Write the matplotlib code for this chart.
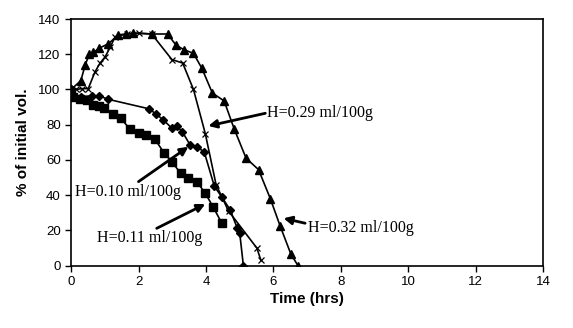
import matplotlib.pyplot as plt

# H=0.32 ml/100g (triangles)
t_032 = [0, 0.29, 0.42, 0.54, 0.66, 0.84, 1.11, 1.40, 1.63, 1.85, 2.39, 2.86,
         3.12, 3.36, 3.63, 3.88, 4.19, 4.54, 4.84, 5.19, 5.56, 5.91, 6.20, 6.52, 6.73]
v_032 = [100, 105, 114, 120, 121, 123.5, 126, 131, 131.5, 132, 131.5, 131.5,
         125, 122.5, 120.5, 112, 98, 93.5, 77.5, 61, 54.5, 38, 22.5, 6.5, 0]

# H=0.29 ml/100g (crosses)
t_029 = [0, 0.15, 0.32, 0.51, 0.71, 0.86, 1.01, 1.16, 1.31, 1.65, 2.02, 2.39,
         2.99, 3.31, 3.63, 3.98, 4.30, 4.67, 5.51, 5.63]
v_029 = [100, 100, 100.5, 100.5, 110, 115, 118.5, 124, 130, 131.5, 132, 131.5,
         117, 115, 100, 75, 46, 31, 10, 3]

# H=0.10 ml/100g (diamonds)
t_010 = [0, 0.1, 0.3, 0.61, 0.84, 1.11, 2.32, 2.52, 2.74, 2.99, 3.15, 3.3,
         3.53, 3.73, 3.95, 4.25, 4.47, 4.72, 4.93, 5.0, 5.11]
v_010 = [100, 96.5, 96, 96.3, 96.3, 94.4, 89, 86, 82.7, 78, 79, 76,
         68.5, 67.5, 64.5, 45, 39, 31.6, 21.2, 18.7, 0]

# H=0.11 ml/100g (squares)
t_011 = [0, 0.05, 0.27, 0.47, 0.66, 0.84, 0.99, 1.24, 1.48, 1.75, 2.0, 2.23,
         2.48, 2.75, 2.99, 3.25, 3.48, 3.73, 3.98, 4.22, 4.47]
v_011 = [98, 95.5, 94.4, 94, 91.2, 90.6, 89.3, 85.9, 83.6, 77.4, 75.1, 74.2,
         72, 64.2, 59, 52.4, 49.6, 47.7, 41.1, 33.1, 24.1]

fig = plt.figure(figsize=(5.73, 3.28), dpi=100)
ax = fig.add_axes([0.124, 0.190, 0.824, 0.752])

ax.plot(t_032, v_032, color='black', lw=1.2, marker='^', ms=6)
ax.plot(t_029, v_029, color='black', lw=1.2, marker='x', ms=5, mew=0.9)
ax.plot(t_010, v_010, color='black', lw=1.2, marker='D', ms=4.2)
ax.plot(t_011, v_011, color='black', lw=1.2, marker='s', ms=6)

ax.set_xlim(0, 14)
ax.set_ylim(0, 140)
ax.set_xticks(range(0, 15, 2))
ax.set_yticks(range(0, 141, 20))
for s in ax.spines.values():
    s.set_linewidth(1.2)
ax.tick_params(direction='out', length=4, width=1, labelsize=9.5)
for lab in ax.get_xticklabels() + ax.get_yticklabels():
    lab.set_family('Liberation Sans')

ax.set_xlabel('Time (hrs)', fontsize=11, fontweight='bold', family='Liberation Sans', labelpad=3)
ax.set_ylabel('% of initial vol.', fontsize=11, fontweight='bold', family='Liberation Sans', labelpad=6)

arrow = dict(arrowstyle='-|>', color='black', lw=2, mutation_scale=12, shrinkA=0, shrinkB=0)
txt = dict(fontsize=11.5, family='Liberation Serif', va='center', ha='left')
ax.annotate('', xy=(4.07, 79.3), xytext=(5.76, 86.5), arrowprops=arrow)
ax.text(5.82, 86.5, 'H=0.29 ml/100g', **txt)
ax.annotate('', xy=(3.48, 67.5), xytext=(2.0, 47.7), arrowprops=arrow)
ax.text(0.12, 42, 'H=0.10 ml/100g', **txt)
ax.annotate('', xy=(3.98, 35), xytext=(2.54, 21.2), arrowprops=arrow)
ax.text(0.76, 15.5, 'H=0.11 ml/100g', **txt)
ax.annotate('', xy=(6.30, 26.9), xytext=(6.94, 24.1), arrowprops=arrow)
ax.text(7.04, 21.2, 'H=0.32 ml/100g', **txt)

fig.savefig('out.png', dpi=100)
